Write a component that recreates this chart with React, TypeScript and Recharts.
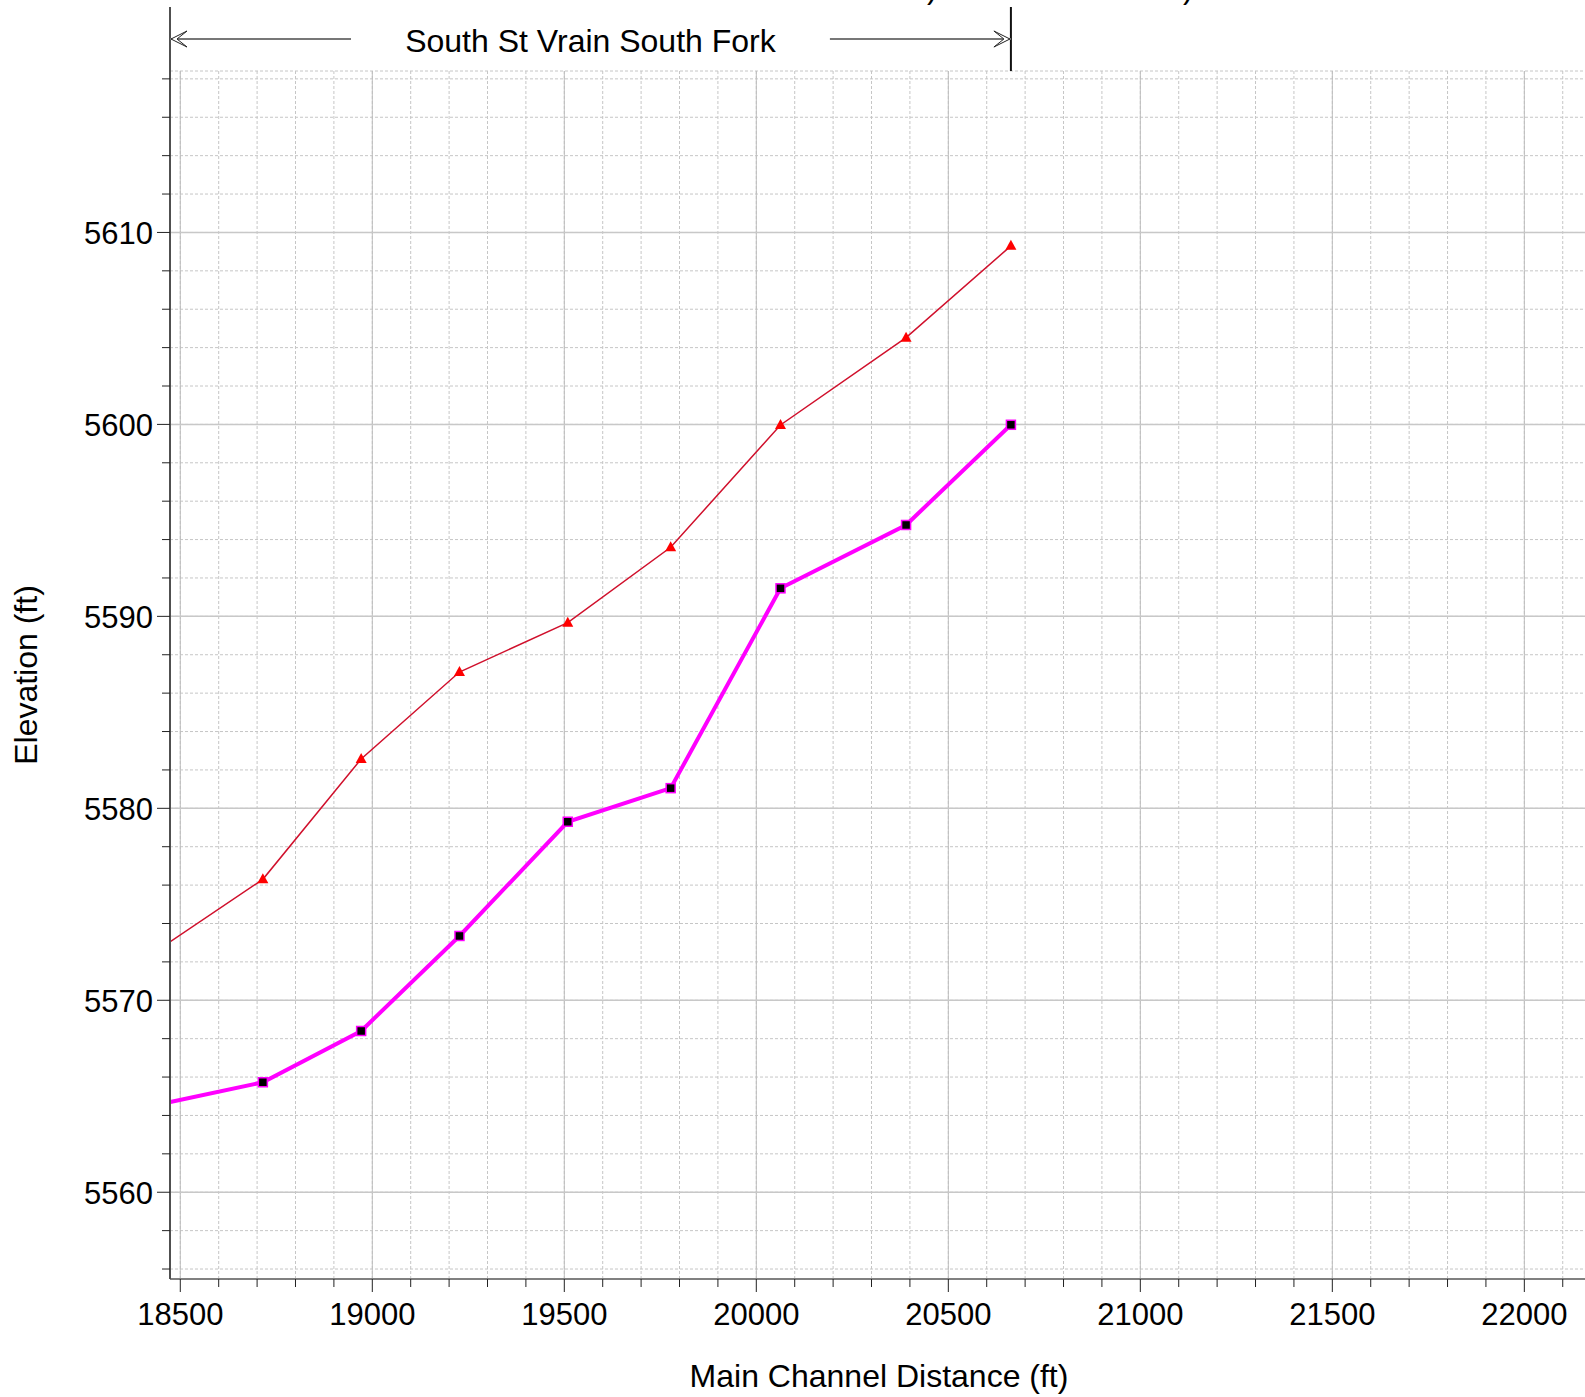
import React from "react";
import { LineChart, Line, XAxis, YAxis, CartesianGrid, ReferenceLine } from "recharts";

// river stations (ft) and elevations (ft)
const stations = [18474, 18715, 18971, 19227, 19509, 19777, 20063, 20390, 20663];
const upperElev = [5573.05, 5576.3, 5582.57, 5587.1, 5589.67, 5593.6, 5599.97, 5604.52, 5609.3];
const lowerElev = [5564.7, 5565.73, 5568.4, 5573.35, 5579.3, 5581.05, 5591.46, 5594.76, 5599.98];

const xMajorTicks = [18500, 19000, 19500, 20000, 20500, 21000, 21500, 22000];
const yMajorTicks = [5560, 5570, 5580, 5590, 5600, 5610];
const reachName = "South St Vrain South Fork";

const X_DOMAIN: [number, number] = [18473.2, 22171];
const Y_DOMAIN: [number, number] = [5555.48, 5618.41];

const xMinorTicks: number[] = [];
for (let v = 18500; v <= 22100; v += 100) xMinorTicks.push(v);
const yMinorTicks: number[] = [];
for (let v = 5556; v <= 5618; v += 2) yMinorTicks.push(v);

const rows = stations.map((s, i) => ({ station: s, upper: upperElev[i], lower: lowerElev[i] }));

const FONT = "'Liberation Sans', Arial, sans-serif";
const PLOT_LEFT = 170;
const TOP = 71;

function XTick(props: any) {
  const { x, y, payload } = props;
  const major = payload.value % 500 === 0;
  return (
    <g>
      <line x1={x} y1={y} x2={x} y2={y + (major ? 13 : 8)} stroke="#222" strokeWidth={1} />
      {major && (
        <text x={x} y={y + 46} textAnchor="middle" fontSize={31} fontFamily={FONT} fill="#000">
          {payload.value}
        </text>
      )}
    </g>
  );
}

function YTick(props: any) {
  const { x, y, payload } = props;
  const major = payload.value % 10 === 0;
  return (
    <g>
      <line x1={x - (major ? 13 : 8)} y1={y} x2={x} y2={y} stroke="#222" strokeWidth={1} />
      {major && (
        <text x={x - 17} y={y + 12} textAnchor="end" fontSize={31} fontFamily={FONT} fill="#000">
          {payload.value}
        </text>
      )}
    </g>
  );
}

function TriangleDot(props: any) {
  const { cx, cy, index } = props;
  if (index === 0 || cx == null) return <g key={"t" + index} />;
  return (
    <polygon
      key={"t" + index}
      points={`${cx},${cy - 6} ${cx - 5.5},${cy + 4} ${cx + 5.5},${cy + 4}`}
      fill="#ff0000"
    />
  );
}

function SquareDot(props: any) {
  const { cx, cy, index } = props;
  if (index === 0 || cx == null) return <g key={"s" + index} />;
  return (
    <rect key={"s" + index} x={cx - 4.5} y={cy - 4.5} width={9} height={9} fill="#000" stroke="#ff00ff" strokeWidth={1.5} />
  );
}

// bracket above the plot marking the reach, anchored on the last station
function ReachBracket(props: any) {
  const { x1, y1, y2 } = props;
  const top = Math.min(y1, y2);
  const ay = top - 32;
  const mid = (PLOT_LEFT + x1) / 2;
  return (
    <g>
      <line x1={PLOT_LEFT} y1={top - 64} x2={PLOT_LEFT} y2={top} stroke="#505050" strokeWidth={2} />
      <line x1={x1} y1={top - 64} x2={x1} y2={top} stroke="#111" strokeWidth={2} />
      <line x1={PLOT_LEFT} y1={ay} x2={PLOT_LEFT + 181} y2={ay} stroke="#777" strokeWidth={2} />
      <line x1={x1 - 181} y1={ay} x2={x1} y2={ay} stroke="#777" strokeWidth={2} />
      <polygon
        points={`${PLOT_LEFT + 1},${ay} ${PLOT_LEFT + 17},${ay - 8} ${PLOT_LEFT + 7},${ay} ${PLOT_LEFT + 17},${ay + 8}`}
        fill="#fff"
        stroke="#222"
        strokeWidth={1}
      />
      <polygon
        points={`${x1 - 1},${ay} ${x1 - 17},${ay - 8} ${x1 - 7},${ay} ${x1 - 17},${ay + 8}`}
        fill="#fff"
        stroke="#222"
        strokeWidth={1}
      />
      <text x={mid} y={ay + 13} textAnchor="middle" fontSize={32} fontFamily={FONT} fill="#000">
        {reachName}
      </text>
    </g>
  );
}

export default function App() {
  return (
    <div style={{ position: "absolute", left: 0, top: 0, width: 1585, height: 1397, overflow: "hidden", background: "#fff" }}>
      <LineChart width={1590} height={1397} data={rows} margin={{ top: TOP, right: 0, bottom: 0, left: 0 }}>
        <CartesianGrid stroke="#c6c6c6" strokeDasharray="3 2" />
        {xMajorTicks.map((v) => (
          <ReferenceLine key={"gx" + v} x={v} stroke="#bdbdbd" strokeWidth={1} zIndex={-50} />
        ))}
        {yMajorTicks.map((v) => (
          <ReferenceLine key={"gy" + v} y={v} stroke="#c8c8c8" strokeWidth={1.5} zIndex={-50} />
        ))}
        <XAxis
          dataKey="station"
          type="number"
          domain={X_DOMAIN}
          ticks={xMinorTicks}
          interval={0}
          allowDataOverflow
          height={118}
          tickSize={0}
          tickMargin={0}
          tickLine={false}
          tick={<XTick />}
          axisLine={{ stroke: "#808080", strokeWidth: 2 }}
        />
        <YAxis
          type="number"
          domain={Y_DOMAIN}
          ticks={yMinorTicks}
          interval={0}
          allowDataOverflow
          width={170}
          tickSize={0}
          tickMargin={0}
          tickLine={false}
          tick={<YTick />}
          axisLine={{ stroke: "#505050", strokeWidth: 2 }}
        />
        <Line
          dataKey="upper"
          stroke="#d0102c"
          strokeWidth={1.5}
          dot={TriangleDot}
          activeDot={false}
          isAnimationActive={false}
        />
        <Line
          dataKey="lower"
          stroke="#ff00ff"
          strokeWidth={4}
          dot={SquareDot}
          activeDot={false}
          isAnimationActive={false}
        />
        <ReferenceLine x={stations[stations.length - 1]} stroke="none" ifOverflow="visible" shape={ReachBracket} />
      </LineChart>
      <svg
        width={1585}
        height={1397}
        style={{ position: "absolute", left: 0, top: 0, pointerEvents: "none" }}
      >
        <text x={879} y={1387} textAnchor="middle" fontSize={32} fontFamily={FONT} fill="#000">
          Main Channel Distance (ft)
        </text>
        <text
          x={0}
          y={0}
          transform="translate(37,675) rotate(-90)"
          textAnchor="middle"
          fontSize={32}
          fontFamily={FONT}
          fill="#000"
        >
          Elevation (ft)
        </text>
        <text x={927} y={-2.5} fontSize={31} fontFamily={FONT} fill="#000">)</text>
        <text x={1183} y={-2.5} fontSize={31} fontFamily={FONT} fill="#000">)</text>
      </svg>
    </div>
  );
}
